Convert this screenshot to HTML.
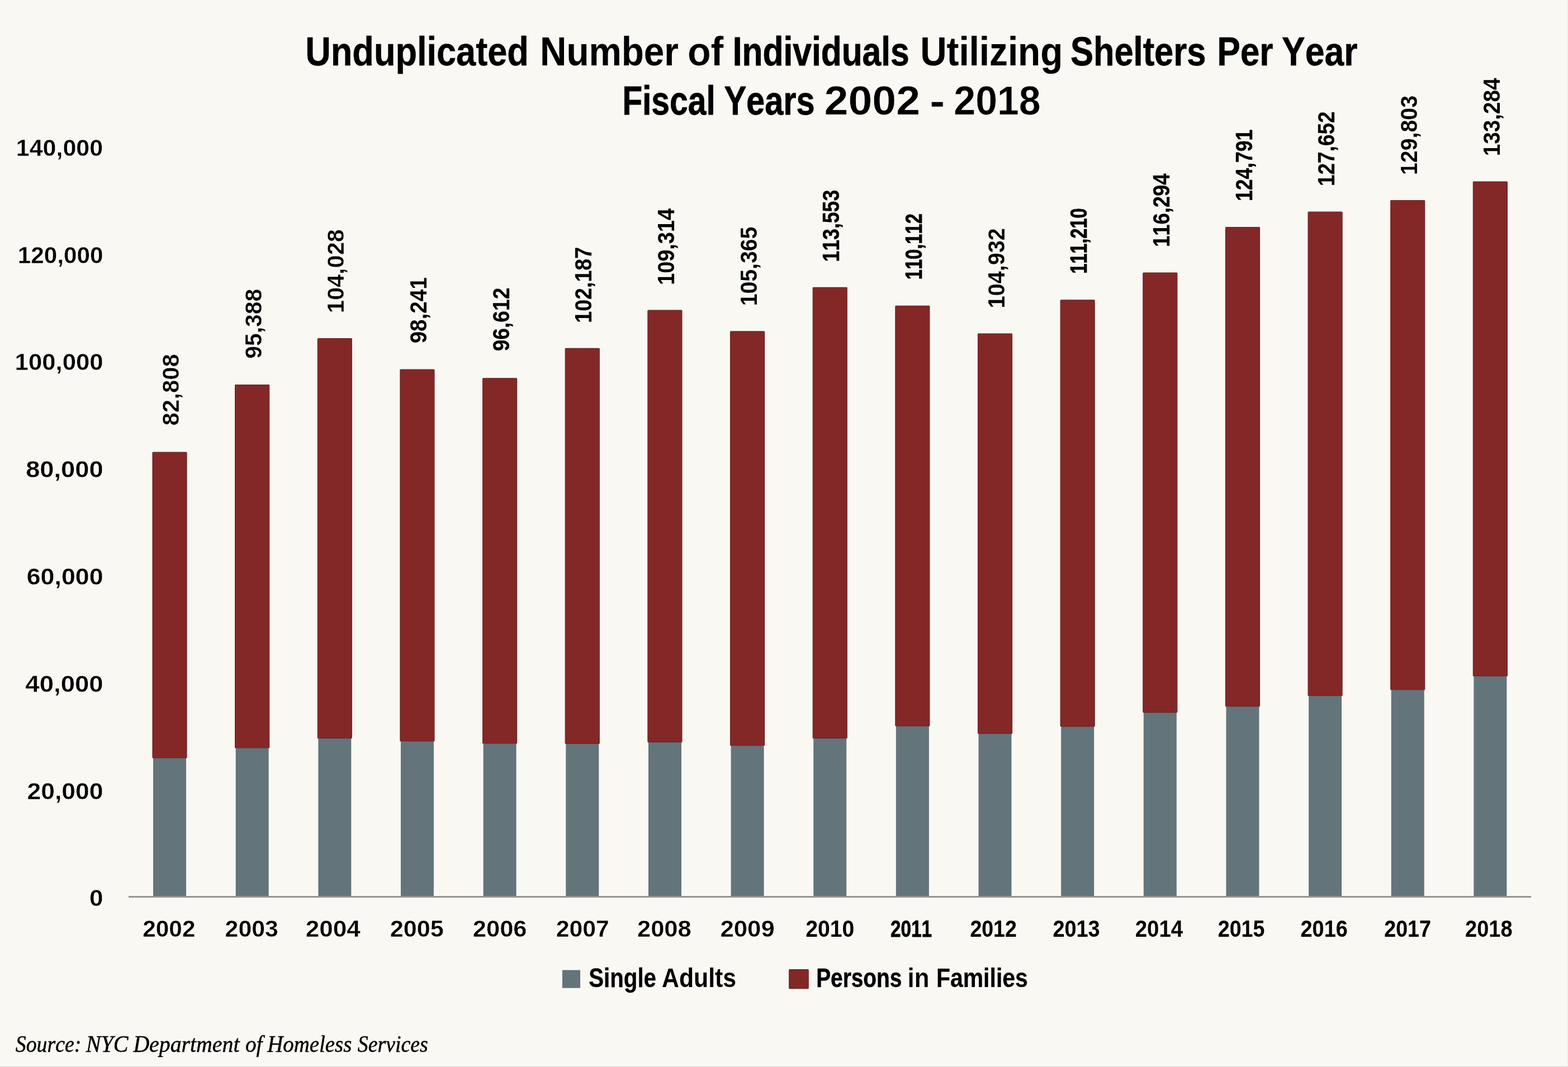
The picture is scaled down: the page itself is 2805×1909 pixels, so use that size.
<!DOCTYPE html>
<html lang="en"><head><meta charset="utf-8">
<title>Unduplicated Number of Individuals Utilizing Shelters Per Year</title>
<style>
html,body{margin:0;padding:0;background:#faf8f3;}
body{width:2805px;height:1909px;}
svg{display:block;}
text{font-family:"Liberation Sans",sans-serif;font-weight:bold;fill:#000;white-space:pre;font-kerning:none;}
.src{font-family:"Liberation Serif",serif;font-weight:normal;font-style:italic;stroke:#000;stroke-width:0.5;}
</style></head><body>
<svg width="2805" height="1909" viewBox="0 0 2805 1909" role="img" aria-label="Unduplicated Number of Individuals Utilizing Shelters Per Year, Fiscal Years 2002 - 2018">
<rect x="0" y="0" width="2805" height="1909" fill="#faf8f3"/>
<rect x="2804" y="0" width="1" height="1909" fill="#e9e8e4"/>
<rect x="0" y="1908" width="2805" height="1" fill="#cfcfcc"/>
<g id="bars">
<rect x="274" y="1355" width="59" height="248" fill="#63747b"/>
<rect x="273" y="809.21" width="61" height="546.69" rx="1" ry="1" fill="#832826" stroke="#6a2627" stroke-width="1.2"/>
<rect x="421.65" y="1337.1" width="59" height="265.9" fill="#63747b"/>
<rect x="420.65" y="688.56" width="61" height="649.44" rx="1" ry="1" fill="#832826" stroke="#6a2627" stroke-width="1.2"/>
<rect x="569.3" y="1319.8" width="59" height="283.2" fill="#63747b"/>
<rect x="568.3" y="605.7" width="61" height="715" rx="1" ry="1" fill="#832826" stroke="#6a2627" stroke-width="1.2"/>
<rect x="716.95" y="1325" width="59" height="278" fill="#63747b"/>
<rect x="715.95" y="661.2" width="61" height="664.7" rx="1" ry="1" fill="#832826" stroke="#6a2627" stroke-width="1.2"/>
<rect x="864.6" y="1328.9" width="59" height="274.1" fill="#63747b"/>
<rect x="863.6" y="676.82" width="61" height="652.98" rx="1" ry="1" fill="#832826" stroke="#6a2627" stroke-width="1.2"/>
<rect x="1012.25" y="1329.4" width="59" height="273.6" fill="#63747b"/>
<rect x="1011.25" y="623.36" width="61" height="706.94" rx="1" ry="1" fill="#832826" stroke="#6a2627" stroke-width="1.2"/>
<rect x="1159.9" y="1326.8" width="59" height="276.2" fill="#63747b"/>
<rect x="1158.9" y="555" width="61" height="772.7" rx="1" ry="1" fill="#832826" stroke="#6a2627" stroke-width="1.2"/>
<rect x="1307.55" y="1332.8" width="59" height="270.2" fill="#63747b"/>
<rect x="1306.55" y="592.88" width="61" height="740.82" rx="1" ry="1" fill="#832826" stroke="#6a2627" stroke-width="1.2"/>
<rect x="1455.2" y="1319.8" width="59" height="283.2" fill="#63747b"/>
<rect x="1454.2" y="514.35" width="61" height="806.35" rx="1" ry="1" fill="#832826" stroke="#6a2627" stroke-width="1.2"/>
<rect x="1602.85" y="1297.9" width="59" height="305.1" fill="#63747b"/>
<rect x="1601.85" y="547.35" width="61" height="751.45" rx="1" ry="1" fill="#832826" stroke="#6a2627" stroke-width="1.2"/>
<rect x="1750.5" y="1311.6" width="59" height="291.4" fill="#63747b"/>
<rect x="1749.5" y="597.03" width="61" height="715.47" rx="1" ry="1" fill="#832826" stroke="#6a2627" stroke-width="1.2"/>
<rect x="1898.15" y="1298.7" width="59" height="304.3" fill="#63747b"/>
<rect x="1897.15" y="536.82" width="61" height="762.78" rx="1" ry="1" fill="#832826" stroke="#6a2627" stroke-width="1.2"/>
<rect x="2045.8" y="1273.7" width="59" height="329.3" fill="#63747b"/>
<rect x="2044.8" y="488.06" width="61" height="786.54" rx="1" ry="1" fill="#832826" stroke="#6a2627" stroke-width="1.2"/>
<rect x="2193.45" y="1262.7" width="59" height="340.3" fill="#63747b"/>
<rect x="2192.45" y="406.57" width="61" height="857.03" rx="1" ry="1" fill="#832826" stroke="#6a2627" stroke-width="1.2"/>
<rect x="2341.1" y="1243.7" width="59" height="359.3" fill="#63747b"/>
<rect x="2340.1" y="379.13" width="61" height="865.47" rx="1" ry="1" fill="#832826" stroke="#6a2627" stroke-width="1.2"/>
<rect x="2488.75" y="1233.1" width="59" height="369.9" fill="#63747b"/>
<rect x="2487.75" y="358.5" width="61" height="875.5" rx="1" ry="1" fill="#832826" stroke="#6a2627" stroke-width="1.2"/>
<rect x="2636.4" y="1208.5" width="59" height="394.5" fill="#63747b"/>
<rect x="2635.4" y="325.11" width="61" height="884.29" rx="1" ry="1" fill="#832826" stroke="#6a2627" stroke-width="1.2"/>
</g>
<rect x="230" y="1603" width="2509" height="3" fill="#979593"/>
<rect x="1005.9" y="1735.6" width="32.1" height="32.1" fill="#63747b"/>
<rect x="1411.7" y="1734.6" width="34.5" height="34.1" rx="1" ry="1" fill="#832826" stroke="#6a2627" stroke-width="1.2"/>
<g id="ta">
<text x="546.28" y="117" font-size="73" textLength="399.55" lengthAdjust="spacingAndGlyphs" stroke="#000" stroke-width="0.5" stroke-linejoin="round">Unduplicated</text>
<text x="966" y="117" font-size="73" textLength="247.9" lengthAdjust="spacingAndGlyphs" stroke="#000" stroke-width="0.14" stroke-linejoin="round">Number</text>
<text x="1229.91" y="117" font-size="73" textLength="64.42" lengthAdjust="spacingAndGlyphs" stroke="#faf8f3" stroke-width="0.23" stroke-linejoin="round">of</text>
<text x="1310.69" y="117" font-size="73" textLength="316.05" lengthAdjust="spacingAndGlyphs" stroke="#000" stroke-width="0.8" stroke-linejoin="round">Individuals</text>
<text x="1646.17" y="117" font-size="73" textLength="255.11" lengthAdjust="spacingAndGlyphs" stroke="#000" stroke-width="0.14" stroke-linejoin="round">Utilizing</text>
<text x="1915.05" y="117" font-size="73" textLength="242.25" lengthAdjust="spacingAndGlyphs" stroke="#000" stroke-width="0.75" stroke-linejoin="round">Shelters</text>
<text x="2177.18" y="117" font-size="73" textLength="100.39" lengthAdjust="spacingAndGlyphs" stroke="#000" stroke-width="0.62" stroke-linejoin="round">Per</text>
<text x="2293.07" y="117" font-size="73" textLength="135.66" lengthAdjust="spacingAndGlyphs" stroke="#000" stroke-width="0.58" stroke-linejoin="round">Year</text>
</g>
<g id="tb">
<text x="1113.15" y="204.9" font-size="73" textLength="166.59" lengthAdjust="spacingAndGlyphs" stroke="#000" stroke-width="0.8" stroke-linejoin="round">Fiscal</text>
<text x="1295.4" y="204.9" font-size="73" textLength="162.15" lengthAdjust="spacingAndGlyphs" stroke="#000" stroke-width="0.8" stroke-linejoin="round">Years</text>
<text x="1474.63" y="204.9" font-size="73" textLength="171.41" lengthAdjust="spacingAndGlyphs" stroke="#faf8f3" stroke-width="0.4" stroke-linejoin="round">2002</text>
<text x="1663.19" y="204.9" font-size="73" textLength="27" lengthAdjust="spacingAndGlyphs" stroke="#faf8f3" stroke-width="0.4" stroke-linejoin="round">-</text>
<text x="1706.37" y="204.9" font-size="73" textLength="155.33" lengthAdjust="spacingAndGlyphs" stroke="#faf8f3" stroke-width="0.4" stroke-linejoin="round">2018</text>
</g>
<g id="yax">
<text x="160.01" y="1621.4" font-size="41.6" textLength="24.49" lengthAdjust="spacingAndGlyphs" stroke="#faf8f3" stroke-width="0.4" stroke-linejoin="round">0</text>
<text x="48.45" y="1429.59" font-size="41.6" textLength="136.1" lengthAdjust="spacingAndGlyphs" stroke="#faf8f3" stroke-width="0.4" stroke-linejoin="round">20,000</text>
<text x="45.32" y="1237.78" font-size="41.6" textLength="139.34" lengthAdjust="spacingAndGlyphs" stroke="#faf8f3" stroke-width="0.4" stroke-linejoin="round">40,000</text>
<text x="47.68" y="1045.97" font-size="41.6" textLength="136.87" lengthAdjust="spacingAndGlyphs" stroke="#faf8f3" stroke-width="0.4" stroke-linejoin="round">60,000</text>
<text x="46.16" y="854.16" font-size="41.6" textLength="138.47" lengthAdjust="spacingAndGlyphs" stroke="#faf8f3" stroke-width="0.4" stroke-linejoin="round">80,000</text>
<text x="26.62" y="662.35" font-size="41.6" textLength="158.05" lengthAdjust="spacingAndGlyphs" stroke="#faf8f3" stroke-width="0.4" stroke-linejoin="round">100,000</text>
<text x="31.74" y="470.54" font-size="41.6" textLength="152.75" lengthAdjust="spacingAndGlyphs" stroke="#faf8f3" stroke-width="0.4" stroke-linejoin="round">120,000</text>
<text x="28.84" y="278.73" font-size="41.6" textLength="155.2" lengthAdjust="spacingAndGlyphs" stroke="#faf8f3" stroke-width="0.4" stroke-linejoin="round">140,000</text>
</g>
<g id="dl">
<text transform="translate(320.1 761.47) rotate(-90)" font-size="42" textLength="128.39" lengthAdjust="spacingAndGlyphs" stroke="#faf8f3" stroke-width="0.4" stroke-linejoin="round">82,808</text>
<text transform="translate(467.75 641.84) rotate(-90)" font-size="42" textLength="125.19" lengthAdjust="spacingAndGlyphs" stroke="#faf8f3" stroke-width="0.34" stroke-linejoin="round">95,388</text>
<text transform="translate(615.4 559.99) rotate(-90)" font-size="42" textLength="149.71" lengthAdjust="spacingAndGlyphs" stroke="#faf8f3" stroke-width="0.4" stroke-linejoin="round">104,028</text>
<text transform="translate(763.05 614.37) rotate(-90)" font-size="42" textLength="118.13" lengthAdjust="spacingAndGlyphs">98,241</text>
<text transform="translate(910.7 628.3) rotate(-90)" font-size="42" textLength="113.63" lengthAdjust="spacingAndGlyphs" stroke="#000" stroke-width="0.2" stroke-linejoin="round">96,612</text>
<text transform="translate(1058.35 577.68) rotate(-90)" font-size="42" textLength="135.73" lengthAdjust="spacingAndGlyphs" stroke="#000" stroke-width="0.15" stroke-linejoin="round">102,187</text>
<text transform="translate(1206 509.84) rotate(-90)" font-size="42" textLength="136.84" lengthAdjust="spacingAndGlyphs" stroke="#000" stroke-width="0.1" stroke-linejoin="round">109,314</text>
<text transform="translate(1353.65 547.29) rotate(-90)" font-size="42" textLength="141.59" lengthAdjust="spacingAndGlyphs" stroke="#faf8f3" stroke-width="0.09" stroke-linejoin="round">105,365</text>
<text transform="translate(1501.3 468.52) rotate(-90)" font-size="42" textLength="128.72" lengthAdjust="spacingAndGlyphs" stroke="#000" stroke-width="0.42" stroke-linejoin="round">113,553</text>
<text transform="translate(1648.95 500.22) rotate(-90)" font-size="42" textLength="118.07" lengthAdjust="spacingAndGlyphs" stroke="#000" stroke-width="0.8" stroke-linejoin="round">110,112</text>
<text transform="translate(1796.6 551.57) rotate(-90)" font-size="42" textLength="143.46" lengthAdjust="spacingAndGlyphs" stroke="#faf8f3" stroke-width="0.16" stroke-linejoin="round">104,932</text>
<text transform="translate(1944.25 489.85) rotate(-90)" font-size="42" textLength="117.29" lengthAdjust="spacingAndGlyphs" stroke="#000" stroke-width="0.8" stroke-linejoin="round">111,210</text>
<text transform="translate(2091.9 442.12) rotate(-90)" font-size="42" textLength="131.73" lengthAdjust="spacingAndGlyphs" stroke="#000" stroke-width="0.3" stroke-linejoin="round">116,294</text>
<text transform="translate(2239.55 360.06) rotate(-90)" font-size="42" textLength="128.28" lengthAdjust="spacingAndGlyphs" stroke="#000" stroke-width="0.44" stroke-linejoin="round">124,791</text>
<text transform="translate(2387.2 333.02) rotate(-90)" font-size="42" textLength="133.67" lengthAdjust="spacingAndGlyphs" stroke="#000" stroke-width="0.23" stroke-linejoin="round">127,652</text>
<text transform="translate(2534.85 313.06) rotate(-90)" font-size="42" textLength="142.16" lengthAdjust="spacingAndGlyphs" stroke="#faf8f3" stroke-width="0.11" stroke-linejoin="round">129,803</text>
<text transform="translate(2682.5 279.28) rotate(-90)" font-size="42" textLength="139.83" lengthAdjust="spacingAndGlyphs">133,284</text>
</g>
<g id="yr">
<text x="255.32" y="1676.4" font-size="41.6" textLength="94.09" lengthAdjust="spacingAndGlyphs" stroke="#faf8f3" stroke-width="0.4" stroke-linejoin="round">2002</text>
<text x="402.64" y="1676.4" font-size="41.6" textLength="95.15" lengthAdjust="spacingAndGlyphs" stroke="#faf8f3" stroke-width="0.4" stroke-linejoin="round">2003</text>
<text x="546.76" y="1676.4" font-size="41.6" textLength="97.97" lengthAdjust="spacingAndGlyphs" stroke="#faf8f3" stroke-width="0.4" stroke-linejoin="round">2004</text>
<text x="697.81" y="1676.4" font-size="41.6" textLength="95.94" lengthAdjust="spacingAndGlyphs" stroke="#faf8f3" stroke-width="0.4" stroke-linejoin="round">2005</text>
<text x="845.85" y="1676.4" font-size="41.6" textLength="96.62" lengthAdjust="spacingAndGlyphs" stroke="#faf8f3" stroke-width="0.4" stroke-linejoin="round">2006</text>
<text x="994.81" y="1676.4" font-size="41.6" textLength="94.99" lengthAdjust="spacingAndGlyphs" stroke="#faf8f3" stroke-width="0.4" stroke-linejoin="round">2007</text>
<text x="1140.02" y="1676.4" font-size="41.6" textLength="96.66" lengthAdjust="spacingAndGlyphs" stroke="#faf8f3" stroke-width="0.4" stroke-linejoin="round">2008</text>
<text x="1288.47" y="1676.4" font-size="41.6" textLength="97.25" lengthAdjust="spacingAndGlyphs" stroke="#faf8f3" stroke-width="0.4" stroke-linejoin="round">2009</text>
<text x="1441.27" y="1676.4" font-size="41.6" textLength="87.03" lengthAdjust="spacingAndGlyphs">2010</text>
<text x="1593.01" y="1676.4" font-size="41.6" textLength="74.16" lengthAdjust="spacingAndGlyphs" stroke="#000" stroke-width="0.75" stroke-linejoin="round">2011</text>
<text x="1735.48" y="1676.4" font-size="41.6" textLength="83.27" lengthAdjust="spacingAndGlyphs" stroke="#000" stroke-width="0.16" stroke-linejoin="round">2012</text>
<text x="1883.51" y="1676.4" font-size="41.6" textLength="84.12" lengthAdjust="spacingAndGlyphs" stroke="#000" stroke-width="0.11" stroke-linejoin="round">2013</text>
<text x="2030.65" y="1676.4" font-size="41.6" textLength="85.56" lengthAdjust="spacingAndGlyphs">2014</text>
<text x="2178.75" y="1676.4" font-size="41.6" textLength="83.61" lengthAdjust="spacingAndGlyphs" stroke="#000" stroke-width="0.14" stroke-linejoin="round">2015</text>
<text x="2326.55" y="1676.4" font-size="41.6" textLength="84.23" lengthAdjust="spacingAndGlyphs" stroke="#000" stroke-width="0.1" stroke-linejoin="round">2016</text>
<text x="2476.28" y="1676.4" font-size="41.6" textLength="83.69" lengthAdjust="spacingAndGlyphs" stroke="#000" stroke-width="0.13" stroke-linejoin="round">2017</text>
<text x="2621.06" y="1676.4" font-size="41.6" textLength="84.62" lengthAdjust="spacingAndGlyphs">2018</text>
</g>
<g id="la">
<text x="1053.26" y="1766" font-size="47.5" textLength="120.7" lengthAdjust="spacingAndGlyphs" stroke="#000" stroke-width="0.31" stroke-linejoin="round">Single</text>
<text x="1184.1" y="1766" font-size="47.5" textLength="132.95" lengthAdjust="spacingAndGlyphs">Adults</text>
</g>
<g id="lb">
<text x="1460.22" y="1766" font-size="47.5" textLength="153.02" lengthAdjust="spacingAndGlyphs" stroke="#000" stroke-width="0.52" stroke-linejoin="round">Persons</text>
<text x="1623.46" y="1766" font-size="47.5" textLength="38.98" lengthAdjust="spacingAndGlyphs" stroke="#faf8f3" stroke-width="0.2" stroke-linejoin="round">in</text>
<text x="1674.88" y="1766" font-size="47.5" textLength="163.97" lengthAdjust="spacingAndGlyphs" stroke="#000" stroke-width="0.21" stroke-linejoin="round">Families</text>
</g>
<g id="s">
<text x="27.77" y="1882" font-size="42.5" textLength="117.58" lengthAdjust="spacingAndGlyphs" class="src">Source:</text>
<text x="153.72" y="1882" font-size="42.5" textLength="75.65" lengthAdjust="spacingAndGlyphs" class="src">NYC</text>
<text x="238.39" y="1882" font-size="42.5" textLength="190.07" lengthAdjust="spacingAndGlyphs" class="src">Department</text>
<text x="438.98" y="1882" font-size="42.5" textLength="30.46" lengthAdjust="spacingAndGlyphs" class="src">of</text>
<text x="478.33" y="1882" font-size="42.5" textLength="150.97" lengthAdjust="spacingAndGlyphs" class="src">Homeless</text>
<text x="639.82" y="1882" font-size="42.5" textLength="125.96" lengthAdjust="spacingAndGlyphs" class="src">Services</text>
</g>
</svg></body></html>
